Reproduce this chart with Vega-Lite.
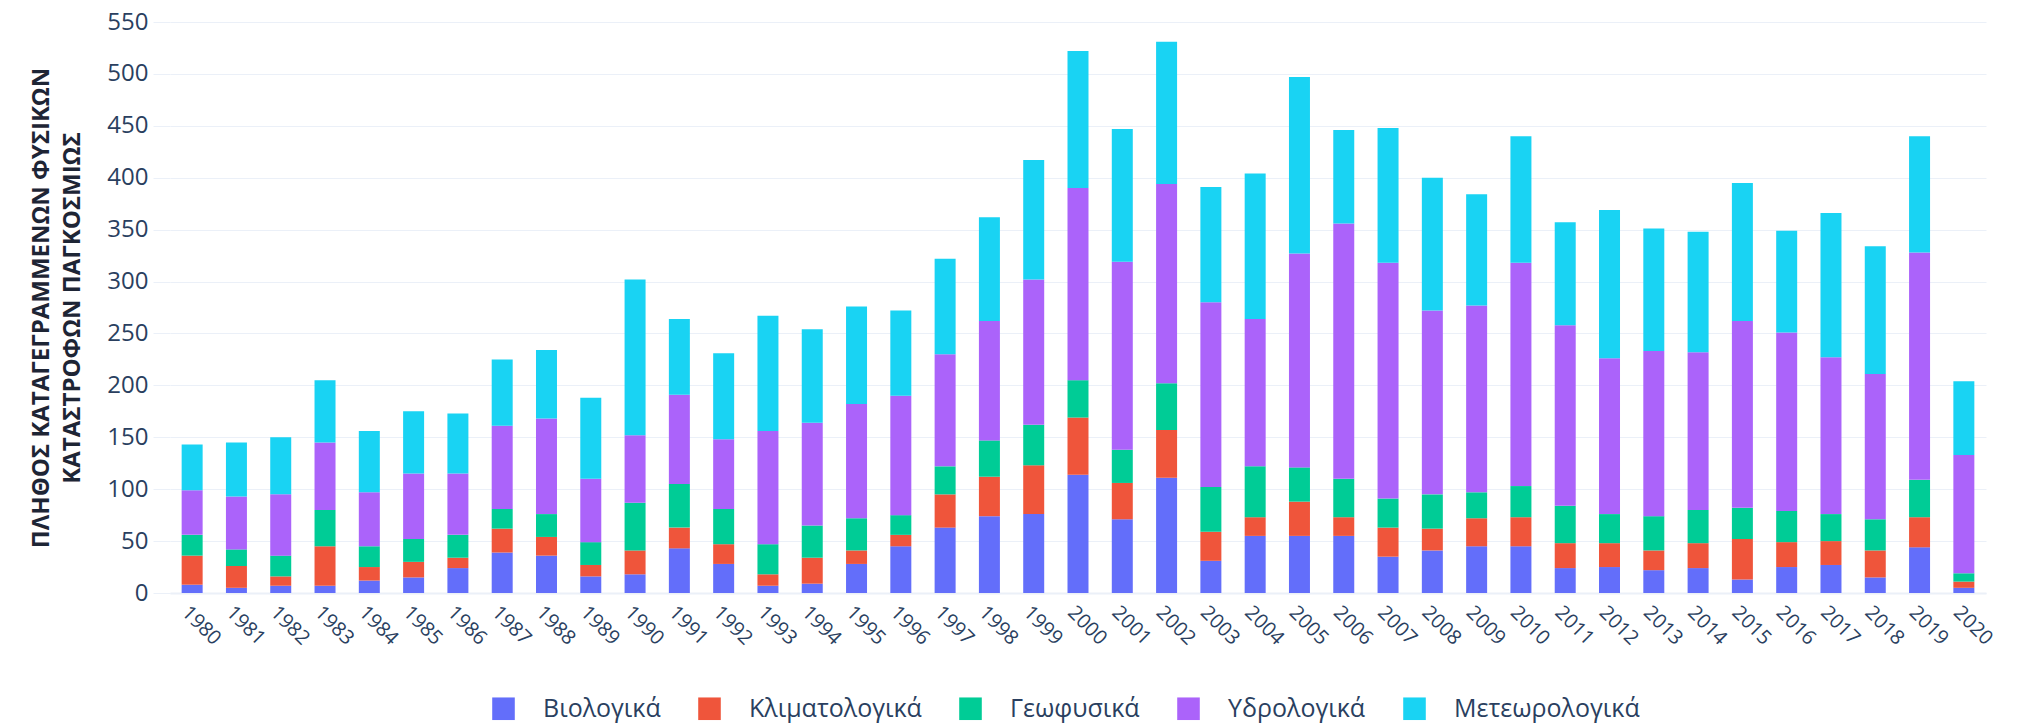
{
  "$schema": "https://vega.github.io/schema/vega-lite/v6.json",
  "autosize": {"type": "none"},
  "width": 1816,
  "height": 571,
  "padding": {"left": 170, "top": 22, "right": 31, "bottom": 134},
  "background": "#ffffff",
  "config": {
    "view": {"stroke": null},
    "font": "Open Sans"
  },
  "data": {
    "values": [
      {"year":"1980","type":"Βιολογικά","count":8},{"year":"1980","type":"Κλιματολογικά","count":28},{"year":"1980","type":"Γεωφυσικά","count":20},{"year":"1980","type":"Υδρολογικά","count":43},{"year":"1980","type":"Μετεωρολογικά","count":44},
      {"year":"1981","type":"Βιολογικά","count":5},{"year":"1981","type":"Κλιματολογικά","count":21},{"year":"1981","type":"Γεωφυσικά","count":16},{"year":"1981","type":"Υδρολογικά","count":51},{"year":"1981","type":"Μετεωρολογικά","count":52},
      {"year":"1982","type":"Βιολογικά","count":7},{"year":"1982","type":"Κλιματολογικά","count":9},{"year":"1982","type":"Γεωφυσικά","count":20},{"year":"1982","type":"Υδρολογικά","count":59},{"year":"1982","type":"Μετεωρολογικά","count":55},
      {"year":"1983","type":"Βιολογικά","count":7},{"year":"1983","type":"Κλιματολογικά","count":38},{"year":"1983","type":"Γεωφυσικά","count":35},{"year":"1983","type":"Υδρολογικά","count":65},{"year":"1983","type":"Μετεωρολογικά","count":60},
      {"year":"1984","type":"Βιολογικά","count":12},{"year":"1984","type":"Κλιματολογικά","count":13},{"year":"1984","type":"Γεωφυσικά","count":20},{"year":"1984","type":"Υδρολογικά","count":52},{"year":"1984","type":"Μετεωρολογικά","count":59},
      {"year":"1985","type":"Βιολογικά","count":15},{"year":"1985","type":"Κλιματολογικά","count":15},{"year":"1985","type":"Γεωφυσικά","count":22},{"year":"1985","type":"Υδρολογικά","count":63},{"year":"1985","type":"Μετεωρολογικά","count":60},
      {"year":"1986","type":"Βιολογικά","count":24},{"year":"1986","type":"Κλιματολογικά","count":10},{"year":"1986","type":"Γεωφυσικά","count":22},{"year":"1986","type":"Υδρολογικά","count":59},{"year":"1986","type":"Μετεωρολογικά","count":58},
      {"year":"1987","type":"Βιολογικά","count":39},{"year":"1987","type":"Κλιματολογικά","count":23},{"year":"1987","type":"Γεωφυσικά","count":19},{"year":"1987","type":"Υδρολογικά","count":80},{"year":"1987","type":"Μετεωρολογικά","count":64},
      {"year":"1988","type":"Βιολογικά","count":36},{"year":"1988","type":"Κλιματολογικά","count":18},{"year":"1988","type":"Γεωφυσικά","count":22},{"year":"1988","type":"Υδρολογικά","count":92},{"year":"1988","type":"Μετεωρολογικά","count":66},
      {"year":"1989","type":"Βιολογικά","count":16},{"year":"1989","type":"Κλιματολογικά","count":11},{"year":"1989","type":"Γεωφυσικά","count":22},{"year":"1989","type":"Υδρολογικά","count":61},{"year":"1989","type":"Μετεωρολογικά","count":78},
      {"year":"1990","type":"Βιολογικά","count":18},{"year":"1990","type":"Κλιματολογικά","count":23},{"year":"1990","type":"Γεωφυσικά","count":46},{"year":"1990","type":"Υδρολογικά","count":65},{"year":"1990","type":"Μετεωρολογικά","count":150},
      {"year":"1991","type":"Βιολογικά","count":43},{"year":"1991","type":"Κλιματολογικά","count":20},{"year":"1991","type":"Γεωφυσικά","count":42},{"year":"1991","type":"Υδρολογικά","count":86},{"year":"1991","type":"Μετεωρολογικά","count":73},
      {"year":"1992","type":"Βιολογικά","count":28},{"year":"1992","type":"Κλιματολογικά","count":19},{"year":"1992","type":"Γεωφυσικά","count":34},{"year":"1992","type":"Υδρολογικά","count":67},{"year":"1992","type":"Μετεωρολογικά","count":83},
      {"year":"1993","type":"Βιολογικά","count":7},{"year":"1993","type":"Κλιματολογικά","count":11},{"year":"1993","type":"Γεωφυσικά","count":29},{"year":"1993","type":"Υδρολογικά","count":109},{"year":"1993","type":"Μετεωρολογικά","count":111},
      {"year":"1994","type":"Βιολογικά","count":9},{"year":"1994","type":"Κλιματολογικά","count":25},{"year":"1994","type":"Γεωφυσικά","count":31},{"year":"1994","type":"Υδρολογικά","count":99},{"year":"1994","type":"Μετεωρολογικά","count":90},
      {"year":"1995","type":"Βιολογικά","count":28},{"year":"1995","type":"Κλιματολογικά","count":13},{"year":"1995","type":"Γεωφυσικά","count":31},{"year":"1995","type":"Υδρολογικά","count":110},{"year":"1995","type":"Μετεωρολογικά","count":94},
      {"year":"1996","type":"Βιολογικά","count":45},{"year":"1996","type":"Κλιματολογικά","count":11},{"year":"1996","type":"Γεωφυσικά","count":19},{"year":"1996","type":"Υδρολογικά","count":115},{"year":"1996","type":"Μετεωρολογικά","count":82},
      {"year":"1997","type":"Βιολογικά","count":63},{"year":"1997","type":"Κλιματολογικά","count":32},{"year":"1997","type":"Γεωφυσικά","count":27},{"year":"1997","type":"Υδρολογικά","count":108},{"year":"1997","type":"Μετεωρολογικά","count":92},
      {"year":"1998","type":"Βιολογικά","count":74},{"year":"1998","type":"Κλιματολογικά","count":38},{"year":"1998","type":"Γεωφυσικά","count":35},{"year":"1998","type":"Υδρολογικά","count":115},{"year":"1998","type":"Μετεωρολογικά","count":100},
      {"year":"1999","type":"Βιολογικά","count":76},{"year":"1999","type":"Κλιματολογικά","count":47},{"year":"1999","type":"Γεωφυσικά","count":39},{"year":"1999","type":"Υδρολογικά","count":140},{"year":"1999","type":"Μετεωρολογικά","count":115},
      {"year":"2000","type":"Βιολογικά","count":114},{"year":"2000","type":"Κλιματολογικά","count":55},{"year":"2000","type":"Γεωφυσικά","count":36},{"year":"2000","type":"Υδρολογικά","count":185},{"year":"2000","type":"Μετεωρολογικά","count":132},
      {"year":"2001","type":"Βιολογικά","count":71},{"year":"2001","type":"Κλιματολογικά","count":35},{"year":"2001","type":"Γεωφυσικά","count":32},{"year":"2001","type":"Υδρολογικά","count":181},{"year":"2001","type":"Μετεωρολογικά","count":128},
      {"year":"2002","type":"Βιολογικά","count":111},{"year":"2002","type":"Κλιματολογικά","count":46},{"year":"2002","type":"Γεωφυσικά","count":45},{"year":"2002","type":"Υδρολογικά","count":192},{"year":"2002","type":"Μετεωρολογικά","count":137},
      {"year":"2003","type":"Βιολογικά","count":31},{"year":"2003","type":"Κλιματολογικά","count":28},{"year":"2003","type":"Γεωφυσικά","count":43},{"year":"2003","type":"Υδρολογικά","count":178},{"year":"2003","type":"Μετεωρολογικά","count":111},
      {"year":"2004","type":"Βιολογικά","count":55},{"year":"2004","type":"Κλιματολογικά","count":18},{"year":"2004","type":"Γεωφυσικά","count":49},{"year":"2004","type":"Υδρολογικά","count":142},{"year":"2004","type":"Μετεωρολογικά","count":140},
      {"year":"2005","type":"Βιολογικά","count":55},{"year":"2005","type":"Κλιματολογικά","count":33},{"year":"2005","type":"Γεωφυσικά","count":33},{"year":"2005","type":"Υδρολογικά","count":206},{"year":"2005","type":"Μετεωρολογικά","count":170},
      {"year":"2006","type":"Βιολογικά","count":55},{"year":"2006","type":"Κλιματολογικά","count":18},{"year":"2006","type":"Γεωφυσικά","count":37},{"year":"2006","type":"Υδρολογικά","count":246},{"year":"2006","type":"Μετεωρολογικά","count":90},
      {"year":"2007","type":"Βιολογικά","count":35},{"year":"2007","type":"Κλιματολογικά","count":28},{"year":"2007","type":"Γεωφυσικά","count":28},{"year":"2007","type":"Υδρολογικά","count":227},{"year":"2007","type":"Μετεωρολογικά","count":130},
      {"year":"2008","type":"Βιολογικά","count":41},{"year":"2008","type":"Κλιματολογικά","count":21},{"year":"2008","type":"Γεωφυσικά","count":33},{"year":"2008","type":"Υδρολογικά","count":177},{"year":"2008","type":"Μετεωρολογικά","count":128},
      {"year":"2009","type":"Βιολογικά","count":45},{"year":"2009","type":"Κλιματολογικά","count":27},{"year":"2009","type":"Γεωφυσικά","count":25},{"year":"2009","type":"Υδρολογικά","count":180},{"year":"2009","type":"Μετεωρολογικά","count":107},
      {"year":"2010","type":"Βιολογικά","count":45},{"year":"2010","type":"Κλιματολογικά","count":28},{"year":"2010","type":"Γεωφυσικά","count":30},{"year":"2010","type":"Υδρολογικά","count":215},{"year":"2010","type":"Μετεωρολογικά","count":122},
      {"year":"2011","type":"Βιολογικά","count":24},{"year":"2011","type":"Κλιματολογικά","count":24},{"year":"2011","type":"Γεωφυσικά","count":36},{"year":"2011","type":"Υδρολογικά","count":174},{"year":"2011","type":"Μετεωρολογικά","count":99},
      {"year":"2012","type":"Βιολογικά","count":25},{"year":"2012","type":"Κλιματολογικά","count":23},{"year":"2012","type":"Γεωφυσικά","count":28},{"year":"2012","type":"Υδρολογικά","count":150},{"year":"2012","type":"Μετεωρολογικά","count":143},
      {"year":"2013","type":"Βιολογικά","count":22},{"year":"2013","type":"Κλιματολογικά","count":19},{"year":"2013","type":"Γεωφυσικά","count":33},{"year":"2013","type":"Υδρολογικά","count":159},{"year":"2013","type":"Μετεωρολογικά","count":118},
      {"year":"2014","type":"Βιολογικά","count":24},{"year":"2014","type":"Κλιματολογικά","count":24},{"year":"2014","type":"Γεωφυσικά","count":32},{"year":"2014","type":"Υδρολογικά","count":152},{"year":"2014","type":"Μετεωρολογικά","count":116},
      {"year":"2015","type":"Βιολογικά","count":13},{"year":"2015","type":"Κλιματολογικά","count":39},{"year":"2015","type":"Γεωφυσικά","count":30},{"year":"2015","type":"Υδρολογικά","count":180},{"year":"2015","type":"Μετεωρολογικά","count":133},
      {"year":"2016","type":"Βιολογικά","count":25},{"year":"2016","type":"Κλιματολογικά","count":24},{"year":"2016","type":"Γεωφυσικά","count":30},{"year":"2016","type":"Υδρολογικά","count":172},{"year":"2016","type":"Μετεωρολογικά","count":98},
      {"year":"2017","type":"Βιολογικά","count":27},{"year":"2017","type":"Κλιματολογικά","count":23},{"year":"2017","type":"Γεωφυσικά","count":26},{"year":"2017","type":"Υδρολογικά","count":151},{"year":"2017","type":"Μετεωρολογικά","count":139},
      {"year":"2018","type":"Βιολογικά","count":15},{"year":"2018","type":"Κλιματολογικά","count":26},{"year":"2018","type":"Γεωφυσικά","count":30},{"year":"2018","type":"Υδρολογικά","count":140},{"year":"2018","type":"Μετεωρολογικά","count":123},
      {"year":"2019","type":"Βιολογικά","count":44},{"year":"2019","type":"Κλιματολογικά","count":29},{"year":"2019","type":"Γεωφυσικά","count":36},{"year":"2019","type":"Υδρολογικά","count":219},{"year":"2019","type":"Μετεωρολογικά","count":112},
      {"year":"2020","type":"Βιολογικά","count":5},{"year":"2020","type":"Κλιματολογικά","count":6},{"year":"2020","type":"Γεωφυσικά","count":8},{"year":"2020","type":"Υδρολογικά","count":114},{"year":"2020","type":"Μετεωρολογικά","count":71}
    ]
  },
  "transform": [
    {"calculate": "indexof(['Βιολογικά', 'Κλιματολογικά', 'Γεωφυσικά', 'Υδρολογικά', 'Μετεωρολογικά'], datum.type)", "as": "stackRank"}
  ],
  "mark": {"type": "bar", "strokeWidth": 0},
  "encoding": {
    "x": {
      "field": "year",
      "type": "ordinal",
      "scale": {"paddingInner": 0.526, "paddingOuter": 0.263},
      "axis": {
        "title": null,
        "labelAngle": 45,
        "labelAlign": "left",
        "labelBaseline": "top",
        "labelFont": "Open Sans",
        "labelFontSize": 20,
        "labelColor": "#2a3f5f",
        "labelPadding": 9,
        "labelOverlap": false,
        "ticks": false,
        "domain": true,
        "domainColor": "#ebf0f8",
        "domainWidth": 2,
        "grid": false
      }
    },
    "y": {
      "field": "count",
      "type": "quantitative",
      "stack": "zero",
      "scale": {"domain": [0, 550], "nice": false},
      "axis": {
        "title": ["ΠΛΗΘΟΣ ΚΑΤΑΓΕΓΡΑΜΜΕΝΩΝ ΦΥΣΙΚΩΝ", "ΚΑΤΑΣΤΡΟΦΩΝ ΠΑΓΚΟΣΜΙΩΣ"],
        "titleFont": "Open Sans",
        "titleFontSize": 24,
        "titleFontWeight": "bold",
        "titleColor": "#1e2535",
        "titleAngle": -90,
        "titleX": -129,
        "titleY": 285.5,
        "titleAlign": "center",
        "titleBaseline": "middle",
        "titleLineHeight": 31,
        "values": [0, 50, 100, 150, 200, 250, 300, 350, 400, 450, 500, 550],
        "labelFont": "Open Sans",
        "labelFontSize": 24,
        "labelColor": "#2a3f5f",
        "labelPadding": 5,
        "tickSize": 17,
        "tickColor": "#ebf0f8",
        "tickWidth": 1,
        "domain": false,
        "grid": true,
        "gridColor": "#ebf0f8",
        "gridWidth": 1
      }
    },
    "order": {"field": "stackRank", "type": "quantitative", "sort": "ascending"},
    "color": {
      "field": "type",
      "type": "nominal",
      "sort": ["Βιολογικά", "Κλιματολογικά", "Γεωφυσικά", "Υδρολογικά", "Μετεωρολογικά"],
      "scale": {
        "domain": ["Βιολογικά", "Κλιματολογικά", "Γεωφυσικά", "Υδρολογικά", "Μετεωρολογικά"],
        "range": ["#636efa", "#ef553b", "#00cc96", "#ab63fa", "#19d3f3"]
      },
      "legend": {
        "title": null,
        "orient": "none",
        "direction": "horizontal",
        "legendX": 321,
        "legendY": 674,
        "padding": 0,
        "symbolType": "square",
        "symbolSize": 510,
        "symbolStrokeWidth": 0,
        "symbolOpacity": 1,
        "labelFont": "Open Sans",
        "labelFontSize": 25,
        "labelColor": "#2a3f5f",
        "labelOffset": 27,
        "labelLimit": 400,
        "columnPadding": 36
      }
    }
  }
}
